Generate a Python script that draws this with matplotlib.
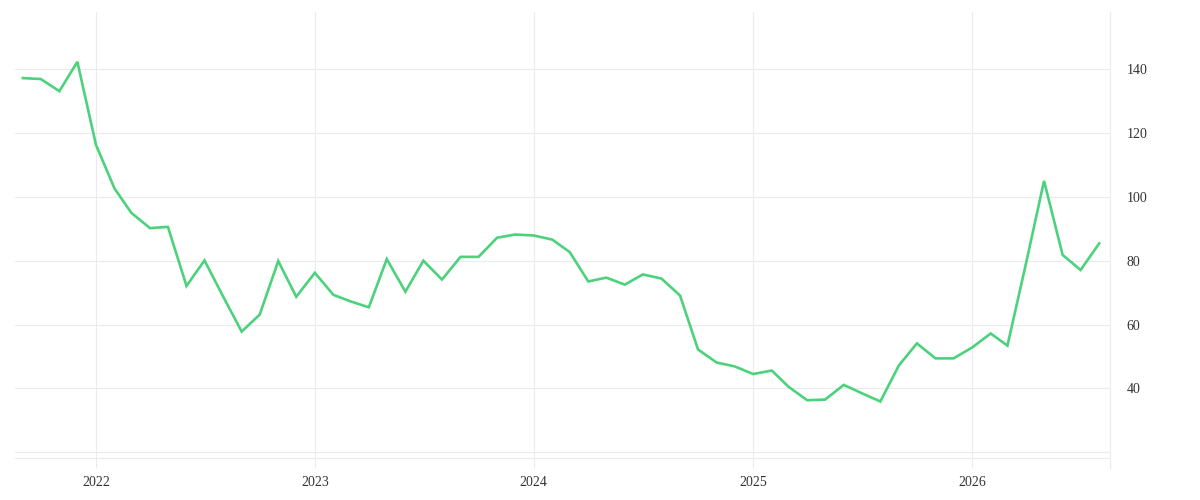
import numpy as np
import pandas as pd
import matplotlib
matplotlib.use("Agg")
import matplotlib.pyplot as plt
import matplotlib.dates as mdates

# monatliche Werte Sep 2021 .. Aug 2026
months = pd.date_range("2021-09-01", "2026-08-01", freq="MS")
values = [
    137.2, 136.9, 133.1, 142.3,
    116.3, 102.6, 95.0, 90.2, 90.6, 72.1, 80.1, 68.8, 57.8, 63.1, 79.9, 68.7,
    76.2, 69.3, 67.3, 65.4, 80.5, 70.3, 80.0, 74.1, 81.2, 81.2, 87.2, 88.2,
    87.9, 86.6, 82.7, 73.5, 74.7, 72.5, 75.7, 74.4, 69.1, 52.2, 48.1, 46.9,
    44.5, 45.6, 40.5, 36.3, 36.5, 41.1, 38.5, 35.9, 47.2, 54.1, 49.4, 49.4,
    52.8, 57.2, 53.4, 79.2, 105.0, 81.8, 77.1, 85.4,
]
year_ticks = pd.to_datetime(["2022-01-01", "2023-01-01", "2024-01-01", "2025-01-01", "2026-01-01"])
y_ticks = [20, 40, 60, 80, 100, 120, 140]

grid_col = "#ebebeb"
txt_col = "#333333"
plt.rcParams["font.family"] = ["Liberation Serif", "DejaVu Serif"]

fig = plt.figure(figsize=(12, 5), dpi=100)
ax = fig.add_axes([15 / 1200, 42 / 500, 1095 / 1200, 446 / 500])

ax.plot(months, values, color="#4cd27c", linewidth=1.9, solid_joinstyle="miter")

ax.set_xlim(pd.Timestamp("2021-08-19"), pd.Timestamp("2026-08-19"))
ax.set_ylim(18.2, 157.9)

ax.set_xticks(year_ticks)
ax.xaxis.set_major_formatter(mdates.DateFormatter("%Y"))
ax.set_yticks(y_ticks)
ax.set_yticklabels(["" if v == 20 else str(v) for v in y_ticks])

ax.yaxis.tick_right()
ax.grid(True, color=grid_col, linewidth=0.8)
ax.set_axisbelow(True)

for s in ["top", "left"]:
    ax.spines[s].set_visible(False)
for s in ["bottom", "right"]:
    ax.spines[s].set_color(grid_col)
    ax.spines[s].set_linewidth(0.8)
ax.spines["right"].set_bounds(18.2 - 3.1, 157.9)

ax.tick_params(axis="x", length=7.2, width=0.8, color=grid_col, pad=6,
               labelsize=10, labelcolor=txt_col)
ax.tick_params(axis="y", length=0, pad=12, labelsize=10, labelcolor=txt_col)

fig.savefig("out.png", dpi=100, facecolor="white")
